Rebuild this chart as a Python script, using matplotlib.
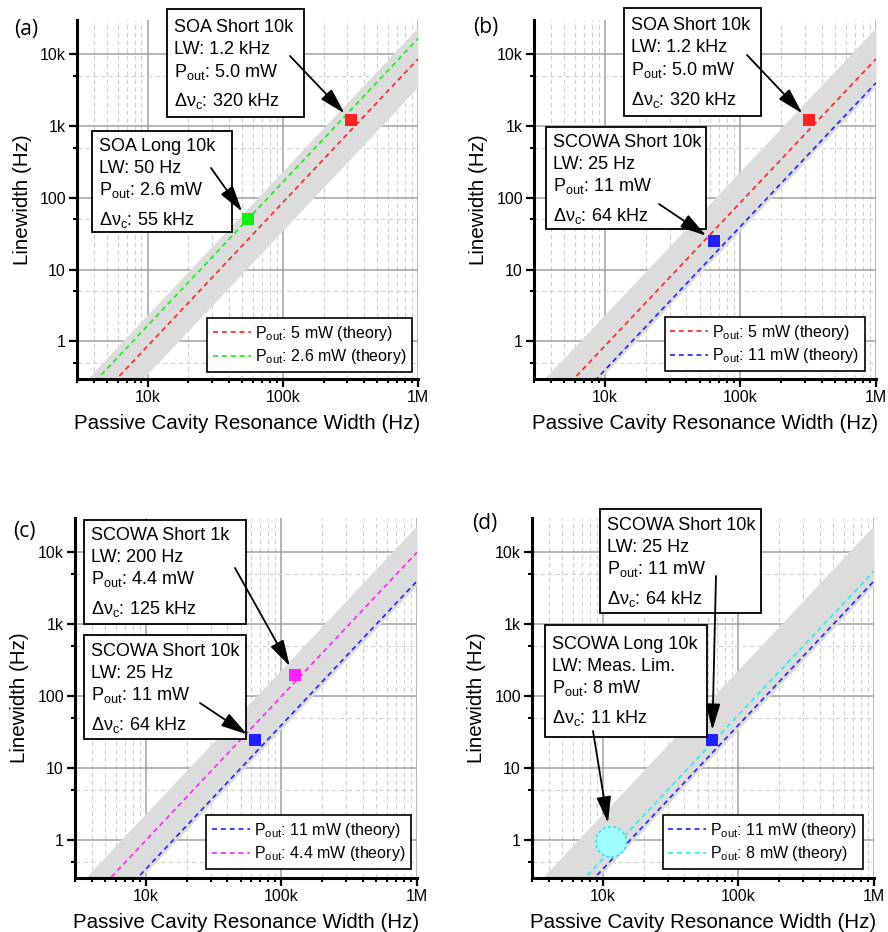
import matplotlib
matplotlib.use('Agg')
import matplotlib.pyplot as plt
from matplotlib.patches import Rectangle
from matplotlib.ticker import FixedLocator, FixedFormatter, NullFormatter

plt.rcParams['font.family'] = ['Liberation Sans', 'DejaVu Sans']
plt.rcParams['mathtext.fontset'] = 'custom'
plt.rcParams['mathtext.rm'] = 'Liberation Sans'
plt.rcParams['mathtext.it'] = 'Liberation Sans:italic'
plt.rcParams['mathtext.bf'] = 'Liberation Sans:bold'

# ---------------- data ----------------
x_limits = [3e3, 1e6]
y_limits = [0.3, 3e4]
x_major = [1e4, 1e5, 1e6]
x_major_labels = ['10k', '100k', '1M']
x_minor = [m * 10 ** e for e in (3, 4, 5) for m in range(2, 10)]
y_major = [1, 10, 100, 1e3, 1e4]
y_major_labels = ['1', '10', '100', '1k', '10k']
y_minor = [0.5, 5, 50, 500, 5e3]

# theory lines (linewidth at x = 3 kHz and x = 1 MHz)
theory_x = [3e3, 1e6]
theory_5mW = [0.078, 8600]
theory_2p6mW = [0.15, 16500]
theory_11mW = [0.036, 4000]
theory_4p4mW = [0.09, 10000]
theory_8mW = [0.05, 5500]
band_upper = [0.213, 23700]
band_lower = [0.032, 3500]

# measured points (resonance width Hz, linewidth Hz)
soa_short_10k = (320e3, 1200)
soa_long_10k = (55e3, 50)
scowa_short_10k = (64e3, 25)
scowa_short_1k = (125e3, 200)
scowa_long_10k = (11.5e3, 0.95)

txt_soa_short_10k = ['SOA Short 10k', 'LW: 1.2 kHz', r'P$_\mathregular{out}$: 5.0 mW', r'Δν$_\mathregular{c}$: 320 kHz']
txt_soa_long_10k = ['SOA Long 10k', 'LW: 50 Hz', r'P$_\mathregular{out}$: 2.6 mW', r'Δν$_\mathregular{c}$: 55 kHz']
txt_scowa_short_10k = ['SCOWA Short 10k', 'LW: 25 Hz', r'P$_\mathregular{out}$: 11 mW', r'Δν$_\mathregular{c}$: 64 kHz']
txt_scowa_short_1k = ['SCOWA Short 1k', 'LW: 200 Hz', r'P$_\mathregular{out}$: 4.4 mW', r'Δν$_\mathregular{c}$: 125 kHz']
txt_scowa_long_10k = ['SCOWA Long 10k', 'LW: Meas. Lim.', r'P$_\mathregular{out}$: 8 mW', r'Δν$_\mathregular{c}$: 11 kHz']

lbl_5 = r'P$_\mathregular{out}$: 5 mW (theory)'
lbl_2p6 = r'P$_\mathregular{out}$: 2.6 mW (theory)'
lbl_11 = r'P$_\mathregular{out}$: 11 mW (theory)'
lbl_4p4 = r'P$_\mathregular{out}$: 4.4 mW (theory)'
lbl_8 = r'P$_\mathregular{out}$: 8 mW (theory)'

RED, GREEN, BLUE, MAG, CYAN = '#ff2020', '#10f010', '#2020ff', '#ff20ff', '#20f0f0'

W, H = 888, 932
LINE_STEPS = [0, 22, 44.5, 74]


def px(x, y):
    return x / W, 1 - y / H


# box: (lines, (left, top, width, height) px, first-baseline offset px, arrow start px, target, shrink)
panels = [
    dict(tag='(a)', rect=[0.08671, 0.59335, 0.38401, 0.38519], tagpos=(14, 30),
         lines=[(theory_5mW, RED, lbl_5), (theory_2p6mW, GREEN, lbl_2p6)],
         points=[(soa_short_10k, RED, 's'), (soa_long_10k, GREEN, 's')],
         boxes=[(txt_soa_short_10k, (167, 9, 137, 108), 23.3, (290, 56), soa_short_10k, 7),
                (txt_soa_long_10k, (92, 131, 140, 101), 19.7, (211, 168), soa_long_10k, 7)],
         leg=(0.9824, 0.0195)),
    dict(tag='(b)', rect=[0.60135, 0.59335, 0.38514, 0.38519], tagpos=(473, 27),
         lines=[(theory_5mW, RED, lbl_5), (theory_11mW, BLUE, lbl_11)],
         points=[(soa_short_10k, RED, 's'), (scowa_short_10k, BLUE, 's')],
         boxes=[(txt_soa_short_10k, (624, 8, 137, 108), 22.5, (747, 55), soa_short_10k, 7),
                (txt_scowa_short_10k, (546, 127, 160, 102), 20.0, (659, 204), scowa_short_10k, 7)],
         leg=(0.968, 0.0223)),
    dict(tag='(c)', rect=[0.08446, 0.05794, 0.38514, 0.38627], tagpos=(13, 531),
         lines=[(theory_11mW, BLUE, lbl_11), (theory_4p4mW, MAG, lbl_4p4)],
         points=[(scowa_short_1k, MAG, 's'), (scowa_short_10k, BLUE, 's')],
         boxes=[(txt_scowa_short_1k, (84, 520, 162, 104), 19.7, (235, 568), scowa_short_1k, 7),
                (txt_scowa_short_10k, (84, 635, 162, 104), 20.7, (200, 703), scowa_short_10k, 7)],
         leg=(0.9825, 0.025)),
    dict(tag='(d)', rect=[0.5991, 0.05794, 0.38514, 0.38627], tagpos=(472, 524),
         lines=[(theory_11mW, BLUE, lbl_11), (theory_8mW, CYAN, lbl_8)],
         points=[(scowa_short_10k, BLUE, 's'), (scowa_long_10k, CYAN, 'o')],
         boxes=[(txt_scowa_short_10k, (600, 509, 161, 104), 20.7, (716, 576), scowa_short_10k, 7),
                (txt_scowa_long_10k, (545, 625, 162, 112), 24.0, (593, 731), scowa_long_10k, 14)],
         leg=(0.968, 0.025)),
]

fig = plt.figure(figsize=(8.88, 9.32), dpi=100)

for p in panels:
    ax = fig.add_axes(p['rect'])
    ax.set_xscale('log')
    ax.set_yscale('log')
    ax.set_xlim(x_limits)
    ax.set_ylim(y_limits)
    ax.xaxis.set_major_locator(FixedLocator(x_major))
    ax.xaxis.set_major_formatter(FixedFormatter(x_major_labels))
    ax.xaxis.set_minor_locator(FixedLocator(x_minor))
    ax.xaxis.set_minor_formatter(NullFormatter())
    ax.yaxis.set_major_locator(FixedLocator(y_major))
    ax.yaxis.set_major_formatter(FixedFormatter(y_major_labels))
    ax.yaxis.set_minor_locator(FixedLocator(y_minor))
    ax.yaxis.set_minor_formatter(NullFormatter())
    for s in ('top', 'right'):
        ax.spines[s].set_visible(False)
    for s in ('left', 'bottom'):
        ax.spines[s].set_linewidth(2.2)
        ax.spines[s].set_zorder(10)
    ax.tick_params(which='major', direction='out', length=5.5, width=1.6, labelsize=11.5, pad=2.5)
    ax.tick_params(which='minor', direction='out', length=3, width=1.5)
    ax.set_axisbelow(True)
    ax.grid(which='major', color='#a0a0a0', lw=1.1, ls='-')
    ax.grid(which='minor', color='#cfcfcf', lw=0.8, ls=(0, (4, 3)))

    ax.fill_between(theory_x, band_lower, band_upper, color='#dcdcdc', lw=0, zorder=1)
    handles = []
    for ys, col, lab in p['lines']:
        h, = ax.plot(theory_x, ys, color=col, lw=1.2, ls=(0, (3, 2.3)), zorder=2, label=lab)
        handles.append(h)
    for (xv, yv), col, mk in p['points']:
        if mk == 's':
            ax.plot([xv], [yv], marker='s', ms=8, mfc=col, mew=0, ls='none', zorder=3)
        else:
            ax.scatter([xv], [yv], s=480, facecolor='#a0fdff', edgecolor='#20e4f4',
                       linewidths=1.1, linestyle=(0, (2, 1.5)), zorder=3)

    for lines, (bl, bt, bw, bh), off0, start, target, shrink in p['boxes']:
        x0, y0 = px(bl, bt + bh)
        ax.add_patch(Rectangle((x0, y0), bw / W, bh / H, transform=fig.transFigure,
                               fc='white', ec='black', lw=1.3, zorder=6, clip_on=False))
        for step, line in zip(LINE_STEPS, lines):
            tx, ty = px(bl + 7, bt + off0 + step)
            ax.text(tx, ty, line, transform=fig.transFigure, ha='left', va='baseline',
                    fontsize=13, zorder=6.5, clip_on=False)
        ax.annotate('', xy=target, xycoords='data', xytext=px(*start),
                    textcoords='figure fraction',
                    arrowprops=dict(arrowstyle='-|>,head_length=1.0,head_width=0.28',
                                    mutation_scale=16, color='black', lw=1.3,
                                    shrinkA=0, shrinkB=shrink),
                    zorder=7, annotation_clip=False)

    leg = ax.legend(handles=handles, loc='lower right', bbox_to_anchor=p['leg'],
                    bbox_transform=ax.transAxes, borderaxespad=0, fontsize=11.5,
                    frameon=True, fancybox=False, framealpha=1, edgecolor='black',
                    handlelength=2.4, handletextpad=0.25, borderpad=0.35, labelspacing=0.3)
    leg.get_frame().set_linewidth(1.2)
    leg.set_zorder(8)

    ax.set_xlabel('Passive Cavity Resonance Width (Hz)', fontsize=14.8)
    ax.set_ylabel('Linewidth (Hz)', fontsize=14.8)
    ax.xaxis.label.set_va('center')
    ax.yaxis.label.set_va('center')
    ax.xaxis.set_label_coords(0.5, -0.1226)
    ax.yaxis.set_label_coords(-0.161, 0.5)

    fig.text(*px(*p['tagpos']), p['tag'], ha='left', va='center', fontsize=15,
             family=['Open Sans', 'DejaVu Sans'])

fig.savefig('out.png', dpi=100)
